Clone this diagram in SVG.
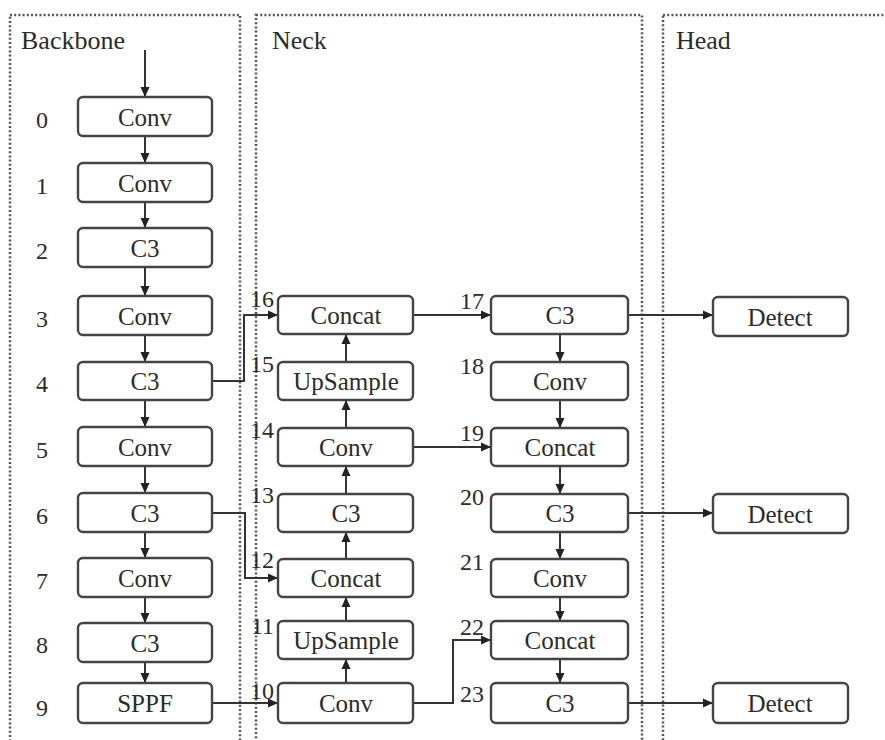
<svg xmlns="http://www.w3.org/2000/svg" width="885" height="740" viewBox="0 0 885 740">
<style>
.panel{fill:none;stroke:#555;stroke-width:2.5;stroke-dasharray:2 2.2}
.box{fill:#fff;stroke:#444;stroke-width:2.4}
text{font-family:'Liberation Serif','Times New Roman','DejaVu Serif','Noto Serif',serif;fill:#2b2b2b}
.t{font-size:25px;text-anchor:middle}
.n{font-size:24px}
.h{font-size:26px}
.c{fill:none;stroke:#333;stroke-width:2;marker-end:url(#ah)}
</style>
<defs>
<marker id="ah" markerUnits="userSpaceOnUse" markerWidth="10" markerHeight="10" viewBox="0 0 10 10" refX="10" refY="5" orient="auto">
<path d="M0,0.5 L10,5 L0,9.5 z" fill="#222"/>
</marker>
</defs>
<rect width="885" height="740" fill="#fff"/>
<g id="panels">
<rect class="panel" x="10" y="15" width="230" height="740"/>
<rect class="panel" x="256" y="15" width="386" height="740"/>
<rect class="panel" x="663" y="15" width="240" height="740"/>
<text class="h" x="21" y="49" font-family="Liberation Serif, serif">Backbone</text>
<text class="h" x="272" y="49" font-family="Liberation Serif, serif">Neck</text>
<text class="h" x="676" y="49" font-family="Liberation Serif, serif">Head</text>
</g>
<g id="connectors">
<path class="c" d="M145,50 V97"/>
<path class="c" d="M145,136 V163"/>
<path class="c" d="M145,202 V228"/>
<path class="c" d="M145,267 V296"/>
<path class="c" d="M145,335 V362"/>
<path class="c" d="M145,400 V427"/>
<path class="c" d="M145,466 V493"/>
<path class="c" d="M145,532 V558"/>
<path class="c" d="M145,597 V623"/>
<path class="c" d="M145,662 V683"/>
<path class="c" d="M212,381 H244 V315 H278"/>
<path class="c" d="M212,513 H245 V578 H278"/>
<path class="c" d="M212,703 H278"/>
<path class="c" d="M346,683 V659"/>
<path class="c" d="M346,621 V597"/>
<path class="c" d="M346,559 V532"/>
<path class="c" d="M346,494 V466"/>
<path class="c" d="M346,428 V400"/>
<path class="c" d="M346,362 V334"/>
<path class="c" d="M413,315 H491"/>
<path class="c" d="M413,447 H491"/>
<path class="c" d="M413,703 H453 V640 H491"/>
<path class="c" d="M560,334 V362"/>
<path class="c" d="M560,400 V428"/>
<path class="c" d="M560,466 V494"/>
<path class="c" d="M560,532 V559"/>
<path class="c" d="M560,597 V621"/>
<path class="c" d="M560,659 V683"/>
<path class="c" d="M628,315 H713"/>
<path class="c" d="M628,513 H713"/>
<path class="c" d="M628,703 H713"/>
</g>
<g id="n0"><rect class="box" x="78" y="97" width="134" height="39" rx="5"/><text class="t" x="145" y="126">Conv</text><text class="n" x="42" y="128" text-anchor="middle">0</text></g>
<g id="n1"><rect class="box" x="78" y="163" width="134" height="39" rx="5"/><text class="t" x="145" y="192">Conv</text><text class="n" x="42" y="194" text-anchor="middle">1</text></g>
<g id="n2"><rect class="box" x="78" y="228" width="134" height="39" rx="5"/><text class="t" x="145" y="257">C3</text><text class="n" x="42" y="259" text-anchor="middle">2</text></g>
<g id="n3"><rect class="box" x="78" y="296" width="134" height="39" rx="5"/><text class="t" x="145" y="325">Conv</text><text class="n" x="42" y="327" text-anchor="middle">3</text></g>
<g id="n4"><rect class="box" x="78" y="362" width="134" height="38" rx="5"/><text class="t" x="145" y="390">C3</text><text class="n" x="42" y="392" text-anchor="middle">4</text></g>
<g id="n5"><rect class="box" x="78" y="427" width="134" height="39" rx="5"/><text class="t" x="145" y="456">Conv</text><text class="n" x="42" y="458" text-anchor="middle">5</text></g>
<g id="n6"><rect class="box" x="78" y="493" width="134" height="39" rx="5"/><text class="t" x="145" y="522">C3</text><text class="n" x="42" y="524" text-anchor="middle">6</text></g>
<g id="n7"><rect class="box" x="78" y="558" width="134" height="39" rx="5"/><text class="t" x="145" y="587">Conv</text><text class="n" x="42" y="589" text-anchor="middle">7</text></g>
<g id="n8"><rect class="box" x="78" y="623" width="134" height="39" rx="5"/><text class="t" x="145" y="652">C3</text><text class="n" x="42" y="653" text-anchor="middle">8</text></g>
<g id="n9"><rect class="box" x="78" y="683" width="134" height="40" rx="5"/><text class="t" x="145" y="712">SPPF</text><text class="n" x="42" y="716" text-anchor="middle">9</text></g>
<g id="n10"><rect class="box" x="278" y="683" width="135" height="40" rx="5"/><text class="t" x="346" y="712">Conv</text><text class="n" x="274" y="699" text-anchor="end">10</text></g>
<g id="n11"><rect class="box" x="278" y="621" width="135" height="38" rx="5"/><text class="t" x="346" y="649">UpSample</text><text class="n" x="274" y="634" text-anchor="end">11</text></g>
<g id="n12"><rect class="box" x="278" y="559" width="135" height="38" rx="5"/><text class="t" x="346" y="587">Concat</text><text class="n" x="274" y="568" text-anchor="end">12</text></g>
<g id="n13"><rect class="box" x="278" y="494" width="135" height="38" rx="5"/><text class="t" x="346" y="522">C3</text><text class="n" x="274" y="503" text-anchor="end">13</text></g>
<g id="n14"><rect class="box" x="278" y="428" width="135" height="38" rx="5"/><text class="t" x="346" y="456">Conv</text><text class="n" x="274" y="438" text-anchor="end">14</text></g>
<g id="n15"><rect class="box" x="278" y="362" width="135" height="38" rx="5"/><text class="t" x="346" y="390">UpSample</text><text class="n" x="274" y="372" text-anchor="end">15</text></g>
<g id="n16"><rect class="box" x="278" y="296" width="135" height="38" rx="5"/><text class="t" x="346" y="324">Concat</text><text class="n" x="274" y="307" text-anchor="end">16</text></g>
<g id="n17"><rect class="box" x="491" y="296" width="137" height="38" rx="5"/><text class="t" x="560" y="324">C3</text><text class="n" x="484" y="309" text-anchor="end">17</text></g>
<g id="n18"><rect class="box" x="491" y="362" width="137" height="38" rx="5"/><text class="t" x="560" y="390">Conv</text><text class="n" x="484" y="374" text-anchor="end">18</text></g>
<g id="n19"><rect class="box" x="491" y="428" width="137" height="38" rx="5"/><text class="t" x="560" y="456">Concat</text><text class="n" x="484" y="441" text-anchor="end">19</text></g>
<g id="n20"><rect class="box" x="491" y="494" width="137" height="38" rx="5"/><text class="t" x="560" y="522">C3</text><text class="n" x="484" y="505" text-anchor="end">20</text></g>
<g id="n21"><rect class="box" x="491" y="559" width="137" height="38" rx="5"/><text class="t" x="560" y="587">Conv</text><text class="n" x="484" y="570" text-anchor="end">21</text></g>
<g id="n22"><rect class="box" x="491" y="621" width="137" height="38" rx="5"/><text class="t" x="560" y="649">Concat</text><text class="n" x="484" y="635" text-anchor="end">22</text></g>
<g id="n23"><rect class="box" x="491" y="683" width="137" height="40" rx="5"/><text class="t" x="560" y="712">C3</text><text class="n" x="484" y="702" text-anchor="end">23</text></g>
<g id="d17"><rect class="box" x="713" y="297" width="135" height="39" rx="5"/><text class="t" x="780" y="326">Detect</text></g>
<g id="d20"><rect class="box" x="713" y="494" width="135" height="39" rx="5"/><text class="t" x="780" y="523">Detect</text></g>
<g id="d23"><rect class="box" x="713" y="683" width="135" height="40" rx="5"/><text class="t" x="780" y="712">Detect</text></g>
</svg>
